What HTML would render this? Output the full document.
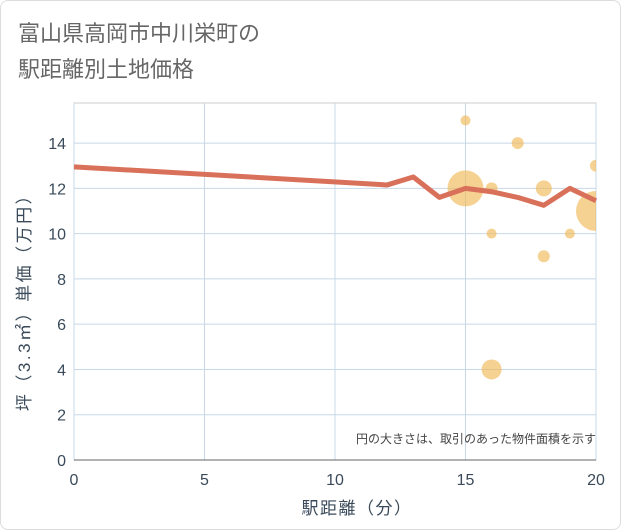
<!DOCTYPE html>
<html><head><meta charset="utf-8"><style>
body{margin:0;background:#fff;font-family:"Liberation Sans","Noto Sans CJK JP",sans-serif;}
#card{position:absolute;left:0;top:0;width:619px;height:528px;border:1px solid #ddd;border-radius:8px;background:#fff;}
</style></head><body>
<div id="card"></div>
<svg width="621" height="530" style="position:absolute;left:0;top:0" id="svg">
<text x="18" y="41" font-size="22" fill="#666" font-family="Liberation Sans,Noto Sans CJK JP,sans-serif">富山県高岡市中川栄町の</text>
<text x="18" y="77" font-size="22" fill="#666" font-family="Liberation Sans,Noto Sans CJK JP,sans-serif">駅距離別土地価格</text>
<g id="grid"></g><g id="bubbles"></g><g id="line"></g><g id="axes"></g>
<text x="596" y="443" font-size="12" fill="#444" text-anchor="end" font-family="Liberation Sans,Noto Sans CJK JP,sans-serif">円の大きさは、取引のあった物件面積を示す</text>
<text x="357" y="514" font-size="17" letter-spacing="1.5" fill="#3a4a5a" text-anchor="middle" font-family="Liberation Sans,Noto Sans CJK JP,sans-serif">駅距離（分）</text>
<text transform="translate(30,298) rotate(-90)" font-size="17" letter-spacing="2.5" fill="#3a4a5a" text-anchor="middle" font-family="Liberation Sans,Noto Sans CJK JP,sans-serif">坪（3.3㎡）単価（万円）</text>
</svg>
<script>
const xTicks=[0,5,10,15,20];
const yTicks=[0,2,4,6,8,10,12,14];
const lineX=[0,12,13,14,15,16,17,18,19,20];
const lineY=[12.95,12.15,12.5,11.6,12.0,11.85,11.6,11.25,12.0,11.45];
const bubX=[15,17,16,15,18,20,20,16,19,18,16];
const bubY=[15,14,12,12,12,13,11,10,10,9,4];
const bubR=[5,6,6,18,8,6,20,5,5,6,10];
const L=74,R=596,T=103,B=460;
const sx=v=>L+(R-L)*v/20, sy=v=>B-(B-T)*v/15.77;
const NS='http://www.w3.org/2000/svg';
function mk(t,a,p){const e=document.createElementNS(NS,t);for(const k in a)e.setAttribute(k,a[k]);document.getElementById(p).appendChild(e);return e;}
let e=mk('rect',{x:L,y:T,width:R-L,height:B-T,fill:'none',stroke:'#ccc'},'grid');


xTicks.forEach(v=>{let g=mk('line',{x1:sx(v),x2:sx(v),y1:T,y2:B,stroke:'#c8d8e8'},'grid');


let t=mk('text',{x:sx(v),y:B+25,'font-size':16,fill:'#3a4a5a','text-anchor':'middle'},'axes');t.textContent=v;

});
yTicks.forEach(v=>{let g=mk('line',{x1:L,x2:R,y1:sy(v),y2:sy(v),stroke:'#c8d8e8'},'grid');


let t=mk('text',{x:L-8,y:sy(v)+6,'font-size':16,fill:'#3a4a5a','text-anchor':'end'},'axes');t.textContent=v;

});
let ax=mk('line',{x1:L,x2:R,y1:B,y2:B,stroke:'#666'},'axes');


mk('clipPath',{id:'clip'},'bubbles');mk('rect',{x:L,y:T,width:R-L,height:B-T},'clip');
bubX.forEach((x,i)=>{let c=mk('circle',{cx:sx(x),cy:sy(bubY[i]),r:bubR[i],fill:'#f0b858','fill-opacity':0.65,'clip-path':'url(#clip)'},'bubbles');

});
let p=mk('polyline',{points:lineX.map((x,i)=>sx(x)+','+sy(lineY[i])).join(' '),fill:'none',stroke:'#d9705a','stroke-width':5,'stroke-linejoin':'round'},'line');


</script>
</body></html>
